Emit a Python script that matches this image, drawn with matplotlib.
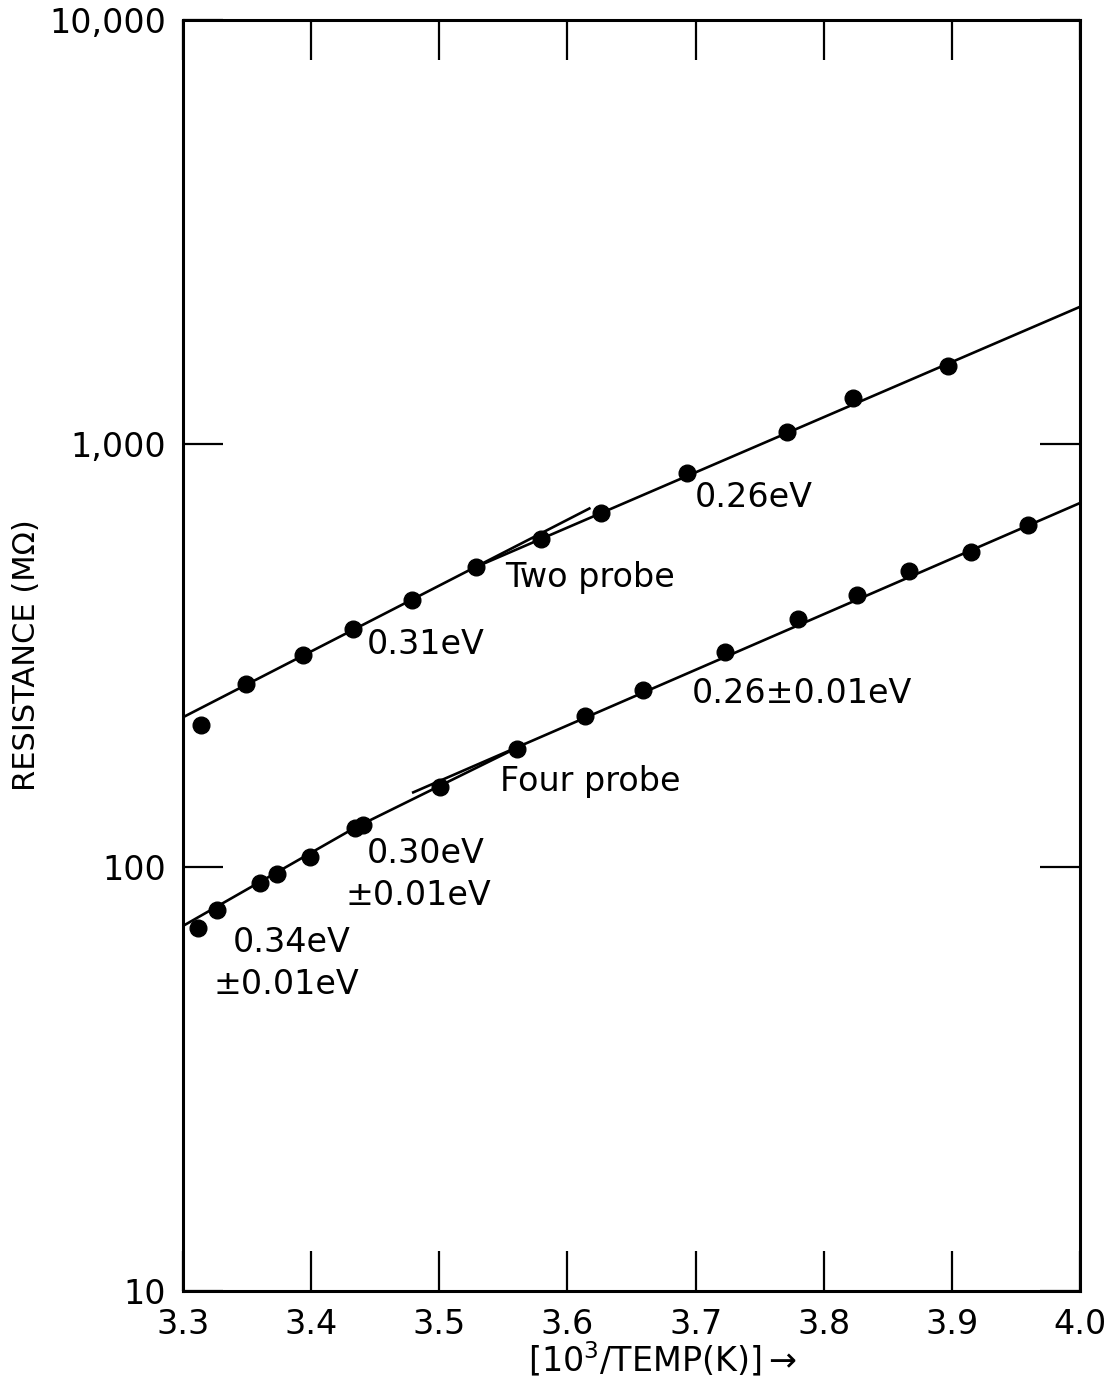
#!/usr/bin/env python3

import numpy as np
import matplotlib
matplotlib.use("Agg")
import matplotlib.pyplot as plt
import matplotlib.ticker as ticker

# measured points, x = 10^3/T (1/K), R in megohm
two_x = [3.314, 3.349, 3.394, 3.433, 3.479, 3.529, 3.579, 3.626, 3.693, 3.771, 3.823, 3.897]
two_r = [217, 271, 317, 365, 428, 512, 596, 686, 853, 1066, 1282, 1525]

four_x = [3.3115, 3.3263, 3.3601, 3.3731, 3.3991, 3.4342, 3.4407, 3.5006, 3.5604,
          3.6137, 3.6592, 3.7230, 3.7802, 3.8258, 3.8668, 3.9150, 3.9592]
four_r = [71.9, 79.3, 91.9, 96.5, 105.8, 124.1, 125.5, 155, 190,
          227, 262, 323, 385, 438, 499, 554, 643]

# straight-line fits (activation energy segments), endpoints
fit_two_lo_x = [3.300, 3.618]
fit_two_lo_r = [226, 705]
fit_two_hi_x = [3.529, 4.000]
fit_two_hi_r = [512, 2103]
fit_four_a_x = [3.300, 3.4342]
fit_four_a_r = [72.7, 124]
fit_four_b_x = [3.4342, 3.5669]
fit_four_b_r = [124, 195.6]
fit_four_c_x = [3.4787, 4.000]
fit_four_c_r = [149.8, 724]

# labels along the lines
notes = ["0.31eV", "Two probe", "0.26eV", "0.26\u00b10.01eV", "Four probe",
         "0.30eV", "\u00b10.01eV", "0.34eV", "\u00b10.01eV"]
notes_x = [3.4436, 3.5513, 3.6996, 3.6972, 3.5474, 3.4436, 3.4264, 3.339, 3.3234]
notes_y = [335, 482, 748, 256.7, 159, 107.5, 85.6, 66.3, 52.8]

xticks = [3.3, 3.4, 3.5, 3.6, 3.7, 3.8, 3.9, 4.0]
xtick_labels = ["3.3", "3.4", "3.5", "3.6", "3.7", "3.8", "3.9", "4.0"]
yticks = [10, 100, 1000, 10000]
ytick_labels = ["10", "100", "1,000", "10,000"]

fs = 24

fig = plt.figure(figsize=(11.14, 13.82), dpi=100)
ax = fig.add_axes([0.1643, 0.0659, 0.8052, 0.9197])

for xs, rs in [(fit_two_lo_x, fit_two_lo_r), (fit_two_hi_x, fit_two_hi_r),
               (fit_four_a_x, fit_four_a_r), (fit_four_b_x, fit_four_b_r),
               (fit_four_c_x, fit_four_c_r)]:
    ax.plot(xs, rs, color="black", linewidth=1.9, solid_capstyle="butt")

ax.plot(two_x, two_r, "o", color="black", markersize=12, linestyle="none")
ax.plot(four_x, four_r, "o", color="black", markersize=12, linestyle="none")

for t, x, y in zip(notes, notes_x, notes_y):
    ax.text(x, y, t, fontsize=fs, ha="left", va="center")

ax.set_yscale("log")
ax.set_xlim(3.3, 4.0)
ax.set_ylim(10, 10000)

ax.set_xticks(xticks, labels=xtick_labels, fontsize=fs)
ax.set_yticks(yticks, labels=ytick_labels, fontsize=fs)
ax.yaxis.set_minor_locator(ticker.NullLocator())
ax.xaxis.set_minor_locator(ticker.NullLocator())
ax.tick_params(which="major", direction="in", length=29, width=1.6,
               top=True, right=True, pad=12)

for s in ax.spines.values():
    s.set_linewidth(2.2)

ax.set_ylabel("RESISTANCE (M\u03a9)", fontsize=22, labelpad=6)
ax.set_xlabel(r"[10$^3$/TEMP(K)]$\rightarrow$", fontsize=fs)
ax.xaxis.set_label_coords(0.534, -0.038)

plt.savefig("out.png", dpi=100)
